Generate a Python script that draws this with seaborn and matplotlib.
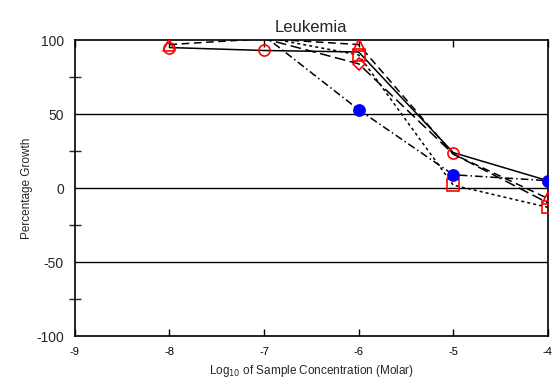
import matplotlib
matplotlib.use("Agg")
import matplotlib.pyplot as plt
import seaborn as sns
import pandas as pd

# log10 concentration (Molar)
conc = [-8, -7, -6, -5, -4]

# percentage growth per cell line (values above 100 run off the top)
circle_growth = [95, 93, 92, 24, 5]
triangle_growth = [97, 101, 97, 23, -7]
square_growth = [104, 102, 90, 2, -13]
diamond_growth = [105, 101, 84, 23, -10]
blue_growth = [106, 103, 53, 9, 5]

title = "Leukemia"
y_ticks = [-100, -50, 0, 50, 100]
x_ticks = [-9, -8, -7, -6, -5, -4]


def build_frame():
    rows = []
    series = {
        "circle": circle_growth,
        "triangle": triangle_growth,
        "square": square_growth,
        "diamond": diamond_growth,
        "blue": blue_growth,
    }
    for name, vals in series.items():
        for x, y in zip(conc, vals):
            rows.append({"line": name, "conc": x, "growth": y})
    return pd.DataFrame(rows)


def main():
    sns.set_style("white")
    plt.rcParams["font.family"] = ["Liberation Sans", "DejaVu Sans"]
    plt.rcParams["axes.unicode_minus"] = False

    data = build_frame()
    fig = plt.figure(figsize=(5.59, 3.86), dpi=100)
    ax = fig.add_axes([0.134, 0.1295, 0.846, 0.7665])

    # horizontal reference lines
    for yv in [50, 0, -50]:
        ax.axhline(yv, color="black", lw=1.0, zorder=1)

    styles = {
        "circle": dict(ls="-", marker="o", mfc="none", mec="red", markevery=[0, 1, 3, 4]),
        "triangle": dict(ls=(0, (5, 3)), marker="^", mfc="none", mec="red", markevery=[0, 2, 4]),
        "square": dict(ls=(0, (2, 2)), marker="s", mfc="none", mec="red", markevery=[2, 3, 4]),
        "diamond": dict(ls=(0, (7, 3)), marker="D", mfc="none", mec="red", ms=6, markevery=[2]),
        "blue": dict(ls=(0, (5, 2, 1, 2)), marker="o", mfc="blue", mec="blue", markevery=[2, 3, 4]),
    }
    for name, st in styles.items():
        sub = data[data["line"] == name]
        st = dict(st)
        ms = st.pop("ms", 8)
        sns.lineplot(data=sub, x="conc", y="growth", ax=ax, color="black",
                     lw=1.1, ms=ms, mew=1.2, zorder=3, **st)

    ax.set_xlim(-9, -4)
    ax.set_ylim(-100, 100)
    ax.set_xticks(x_ticks)
    ax.set_yticks(y_ticks)
    ax.set_yticks([-75, -25, 25, 75], minor=True)
    ax.tick_params(axis="x", which="major", direction="in", length=5, width=1,
                   top=True, bottom=True, labelsize=8, pad=8, colors="black")
    ax.tick_params(axis="y", which="major", length=0, labelsize=10, pad=8)
    ax.tick_params(axis="y", which="minor", direction="inout", length=9, width=1,
                   left=True)

    for sp in ax.spines.values():
        sp.set_color("black")
        sp.set_linewidth(1.2)

    ax.set_title(title, fontsize=12, pad=6)
    ax.set_xlabel("Log$_{10}$ of Sample Concentration (Molar)", fontsize=8.5, labelpad=4)
    ax.set_ylabel("Percentage Growth", fontsize=8.5, labelpad=2)

    fig.savefig("out.png", dpi=100)


if __name__ == "__main__":
    main()
